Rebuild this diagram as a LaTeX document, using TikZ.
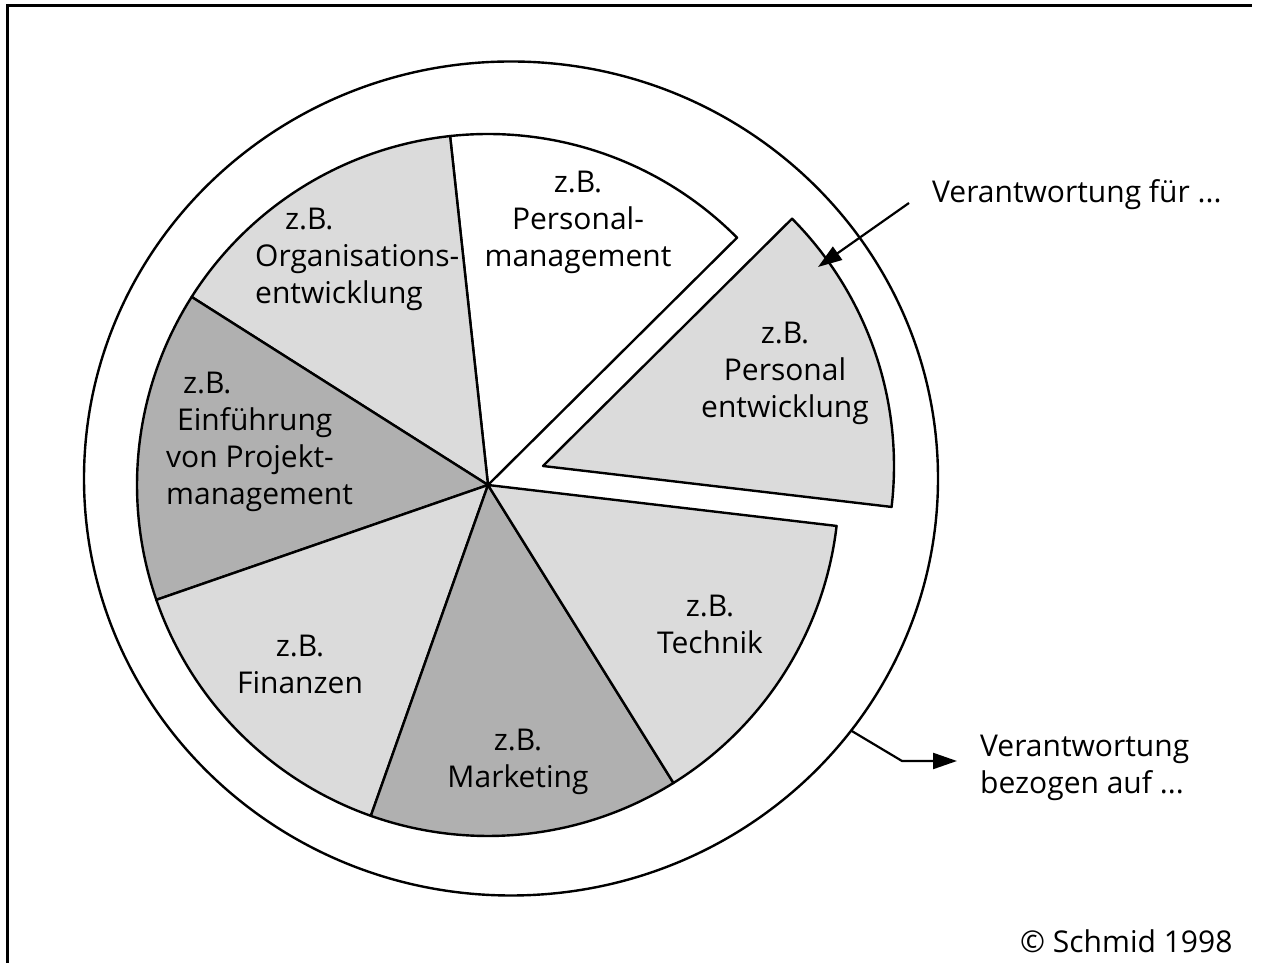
\documentclass[tikz,border=0pt]{standalone}
\usepackage{fontspec}
\setmainfont{Open Sans}
\usetikzlibrary{arrows.meta,calc}
\definecolor{lightslice}{gray}{0.86}
\definecolor{darkslice}{gray}{0.69}
\tikzset{
  slice/.style={draw=black,line width=2.4pt,line join=round},
  lbl/.style={inner sep=0pt,font=\fontsize{30}{37}\selectfont,align=center},
  lbll/.style={inner sep=0pt,font=\fontsize{30}{37}\selectfont,align=left,anchor=west},
  pointer/.style={line width=2.2pt,-{Triangle[length=24pt,width=16pt]}},
}
\begin{document}
\begin{tikzpicture}[x=1pt,y=1pt]
\useasboundingbox (0,0) rectangle (1261,963);
% frame (top and left edges visible)
\draw[line width=3pt] (7,-5) -- (7,957) -- (1252,957);
% outer ring
\coordinate (O) at (511,484.5);
\draw[line width=2.4pt] (O) ellipse[x radius=427, y radius=417];
% pie
\coordinate (C) at (488,478);
\def\R{351}
\filldraw[slice,fill=white] (C) -- ++(44.8:\R) arc[start angle=44.8,end angle=96.2,radius=\R] -- cycle;
\filldraw[slice,fill=lightslice] (C) -- ++(96.2:\R) arc[start angle=96.2,end angle=147.6,radius=\R] -- cycle;
\filldraw[slice,fill=darkslice] (C) -- ++(147.6:\R) arc[start angle=147.6,end angle=199.1,radius=\R] -- cycle;
\filldraw[slice,fill=lightslice] (C) -- ++(199.1:\R) arc[start angle=199.1,end angle=250.5,radius=\R] -- cycle;
\filldraw[slice,fill=darkslice] (C) -- ++(250.5:\R) arc[start angle=250.5,end angle=301.9,radius=\R] -- cycle;
\filldraw[slice,fill=lightslice] (C) -- ++(301.9:\R) arc[start angle=301.9,end angle=353.3,radius=\R] -- cycle;
% exploded slice
\coordinate (E) at (543,497);
\filldraw[slice,fill=lightslice] (E) -- ++(-6.7:\R) arc[start angle=-6.7,end angle=44.8,radius=\R] -- cycle;
% labels
\node[lbl] (pm) at (578,741) {z.B.\\Personal-\\management};
\node[lbll] (oe) at (255,704) {\hspace*{30pt}z.B.\\Organisations-\\entwicklung};
\node[lbll] (ep) at (166,521) {\hspace*{17pt}z.B.\\\hspace*{11pt}Einführung\\von Projekt-\\management};
\node[lbl] (fi) at (300,298.5) {z.B.\\Finanzen};
\node[lbl] (ma) at (518,201.5) {z.B.\\Marketing};
\node[lbl] (te) at (710,339) {z.B.\\Technik};
\node[lbl] (pe) at (785,590) {z.B.\\Personal\\entwicklung};
% right-hand texts
\node[lbll] (vf) at (932,768) {Verantwortung für ...};
\node[lbll] (vb) at (980,195.5) {Verantwortung\\bezogen auf ...};
\node[inner sep=0pt,font=\fontsize{30}{37}\selectfont,anchor=base west] (cr) at (1020,10) {© Schmid 1998};
% arrows
\coordinate (a1s) at (909,760);
\coordinate (a1e) at (818,696);
\draw[pointer] (a1s) -- (a1e);
\coordinate (a2s) at ($(O)+(-37.2:427 and 417)$);
\coordinate (a2m) at (902,202);
\coordinate (a2e) at (957,202);
\draw[pointer] (a2s) -- (a2m) -- (a2e);
\end{tikzpicture}
\end{document}
